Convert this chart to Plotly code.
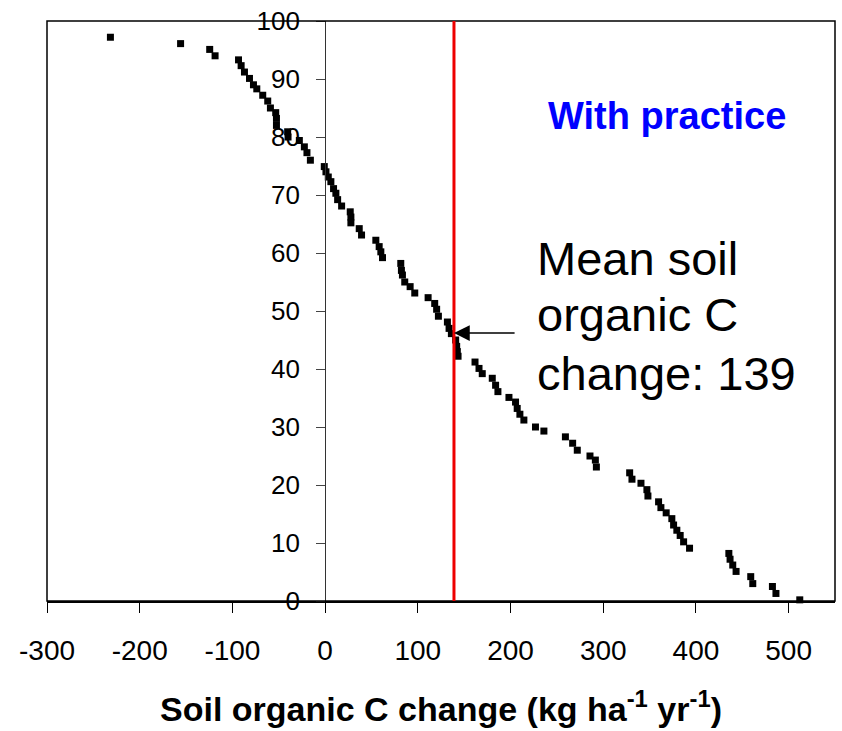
import plotly.graph_objects as go

# Cumulative percentage (y) vs soil organic C change (x)
soc_change = [-231.6, -155.9, -124.5, -118.7, -93.4, -90.6, -87.0, -81.6, -77.3, -73.7,
              -67.3, -61.9, -59.0, -53.3, -52.5, -52.5, -40.4, -40.0, -27.8, -22.4,
              -19.6, -15.9, -0.9, 0.9, 3.4, 6.2, 9.1, 11.6, 13.5, 17.8,
              27.1, 27.8, 27.8, 36.8, 39.3, 54.7, 58.3, 60.1, 61.9, 81.6,
              82.3, 83.4, 85.9, 91.7, 96.7, 111.1, 118.2, 120.3, 122.2, 131.9,
              133.7, 136.2, 140.8, 141.9, 142.6, 143.4, 161.7, 166.0, 169.5, 180.3,
              183.9, 186.4, 198.3, 205.4, 207.2, 210.1, 214.4, 226.9, 236.0, 259.2,
              267.0, 272.0, 285.7, 291.5, 292.6, 328.5, 331.0, 340.7, 347.1, 348.2,
              359.7, 362.2, 367.9, 374.0, 375.9, 379.4, 383.0, 386.7, 393.1, 435.5,
              436.8, 439.7, 443.3, 459.1, 461.3, 482.5, 486.3, 512.0]
cum_pct = [97.2, 96.1, 95.1, 94.0, 93.3, 92.3, 91.2, 90.1, 89.0, 88.3,
           87.2, 86.2, 85.0, 84.2, 83.2, 82.0, 80.9, 80.0, 79.4, 78.3,
           77.3, 76.0, 74.9, 74.0, 73.1, 72.3, 71.1, 70.3, 69.2, 68.1,
           67.1, 66.2, 65.2, 64.2, 63.1, 62.2, 61.1, 60.2, 59.2, 58.2,
           57.0, 56.2, 55.0, 54.2, 53.1, 52.3, 51.3, 50.3, 49.1, 48.1,
           47.0, 46.1, 45.0, 43.9, 43.0, 42.2, 41.2, 40.1, 39.2, 38.4,
           37.2, 36.1, 35.1, 34.3, 33.2, 32.2, 31.2, 30.0, 29.3, 28.3,
           27.2, 26.0, 25.0, 24.3, 23.1, 22.1, 21.0, 20.3, 19.2, 18.1,
           17.1, 16.1, 15.2, 14.2, 13.1, 12.2, 11.3, 10.2, 9.1, 8.2,
           7.2, 6.2, 5.1, 4.2, 3.0, 2.5, 1.3, 0.2]

x_ticks = [-300, -200, -100, 0, 100, 200, 300, 400, 500]
x_tick_labels = ["-300", "-200", "-100", "0", "100", "200", "300", "400", "500"]
y_ticks = [0, 10, 20, 30, 40, 50, 60, 70, 80, 90, 100]
x_range = [-300, 550]
y_range = [0, 100]
mean_value = 139
arrow_y = 46.2
arrow_tail_x = 206

ARIAL = "Liberation Sans, Arial, sans-serif"

fig = go.Figure()
fig.add_trace(go.Scatter(
    x=soc_change, y=cum_pct, mode="markers",
    marker=dict(symbol="square", size=7, color="black", line=dict(width=0)),
    cliponaxis=False, showlegend=False,
))

fig.update_layout(
    width=842, height=731,
    margin=dict(l=47, r=7, t=21, b=130),
    paper_bgcolor="white", plot_bgcolor="white",
    showlegend=False,
    xaxis=dict(
        range=x_range, tickvals=x_ticks, ticktext=x_tick_labels,
        ticks="outside", ticklen=10, tickwidth=1,
        tickcolor="black", showline=True, linecolor="black", linewidth=1.5,
        showgrid=False, zeroline=False,
        tickfont=dict(family=ARIAL, size=28, color="black"),
        ticklabelstandoff=14,
        title=dict(text="Soil organic C change (kg ha<sup>-1</sup> yr<sup>-1</sup>)",
                   font=dict(family=ARIAL, size=34, color="black", weight="bold"),
                   standoff=32),
    ),
    yaxis=dict(
        range=y_range, tickvals=y_ticks, ticks="outside", ticklen=9, tickwidth=1,
        tickcolor="#444", showline=True, linecolor="#333", linewidth=1,
        anchor="free", position=(0 - x_range[0]) / (x_range[1] - x_range[0]),
        showgrid=False, zeroline=False,
        tickfont=dict(family=ARIAL, size=26, color="black"),
        ticklabelstandoff=11,
    ),
    shapes=[
        dict(type="rect", xref="paper", yref="paper", x0=0, x1=1, y0=0, y1=1,
             line=dict(color="black", width=1.5), layer="above"),
        dict(type="line", xref="x", yref="y", x0=mean_value, x1=mean_value,
             y0=y_range[0], y1=y_range[1], line=dict(color="#ee0000", width=3)),
    ],
    annotations=[
        dict(x=mean_value, y=arrow_y, xref="x", yref="y", ax=arrow_tail_x, ay=arrow_y,
             axref="x", ayref="y", text="", showarrow=True, arrowhead=2,
             arrowsize=2.1, arrowwidth=1.5, arrowcolor="black"),
        dict(x=0.619, y=0.590, xref="paper", yref="paper", text="Mean soil",
             showarrow=False, xanchor="left", yanchor="middle",
             font=dict(family=ARIAL, size=47, color="black")),
        dict(x=0.619, y=0.494, xref="paper", yref="paper", text="organic C",
             showarrow=False, xanchor="left", yanchor="middle",
             font=dict(family=ARIAL, size=47, color="black")),
        dict(x=0.619, y=0.392, xref="paper", yref="paper", text="change: 139",
             showarrow=False, xanchor="left", yanchor="middle",
             font=dict(family=ARIAL, size=47, color="black")),
        dict(x=0.787, y=0.837, xref="paper", yref="paper", text="<b>With practice</b>",
             showarrow=False, xanchor="center", yanchor="middle",
             font=dict(family=ARIAL, size=38, color="#0000ff")),
    ],
)

fig.write_html("out.html")
